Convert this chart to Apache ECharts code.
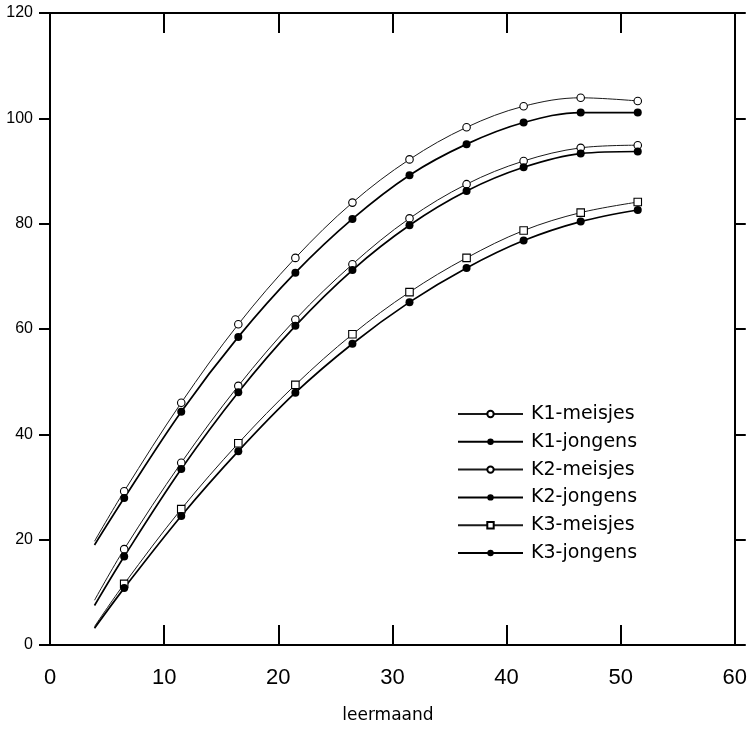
<!DOCTYPE html>
<html>
<head>
<meta charset="utf-8">
<script src="https://cdn.jsdelivr.net/npm/echarts@6/dist/echarts.min.js"></script>
<style>
  html, body { margin: 0; padding: 0; background: #fff; }
  #chart { width: 750px; height: 729px; }
</style>
</head>
<body>
<div id="chart"></div>
<script>
// Leermaand positions: the first entry is where each curve starts (no marker),
// the rest are the measured months that carry a marker.
const months = [3.9, 6.5, 11.5, 16.5, 21.5, 26.5, 31.5, 36.5, 41.5, 46.5, 51.5];

const k1Meisjes = [19.7, 29.2, 46.0, 60.9, 73.5, 84.0, 92.2, 98.3, 102.3, 103.9, 103.3];
const k1Jongens = [19.0, 27.9, 44.3, 58.5, 70.7, 80.9, 89.2, 95.1, 99.2, 101.1, 101.1];
const k2Meisjes = [8.5, 18.2, 34.6, 49.2, 61.8, 72.3, 81.0, 87.5, 91.9, 94.4, 94.9];
const k2Jongens = [7.5, 16.8, 33.4, 48.0, 60.6, 71.2, 79.7, 86.2, 90.7, 93.3, 93.7];
const k3Meisjes = [3.5, 11.6, 25.8, 38.3, 49.4, 59.0, 67.0, 73.5, 78.7, 82.1, 84.1];
const k3Jongens = [3.2, 10.8, 24.5, 36.8, 47.9, 57.2, 65.1, 71.6, 76.8, 80.4, 82.6];

const seriesNames = ['K1-meisjes', 'K1-jongens', 'K2-meisjes', 'K2-jongens', 'K3-meisjes', 'K3-jongens'];

const xTicks = [0, 10, 20, 30, 40, 50, 60];
const yTicks = [0, 20, 40, 60, 80, 100, 120];

const TEXT_FONT = '"DejaVu Sans", "Liberation Sans", sans-serif';
const NUM_FONT = '"Liberation Sans", "DejaVu Sans", sans-serif';

function toPoints(values) {
  return values.map((v, i) => {
    const item = { value: [months[i], v] };
    if (i === 0) item.symbol = 'none';
    return item;
  });
}

function curve(name, values, kind) {
  const open = kind !== 'filled';
  return {
    name: name,
    type: 'line',
    smooth: 0.35,
    data: toPoints(values),
    symbol: kind === 'square' ? 'rect' : 'circle',
    symbolSize: kind === 'filled' ? 8 : 7.5,
    showSymbol: true,
    lineStyle: {
      color: open ? '#1a1a1a' : '#000',
      width: open ? 1 : 1.7
    },
    itemStyle: {
      color: open ? '#fff' : '#000',
      borderColor: '#000',
      borderWidth: open ? 1.1 : 0
    },
    emphasis: { disabled: true },
    z: 3
  };
}

const axisLine = { show: true, onZero: false, lineStyle: { color: '#000', width: 2 } };
const tickStyle = { color: '#000', width: 2 };

const chart = echarts.init(document.getElementById('chart'), null, { renderer: 'canvas' });

chart.setOption({
  animation: false,
  backgroundColor: '#fff',
  textStyle: { fontFamily: TEXT_FONT },
  grid: { left: 50, right: 11, top: 13, bottom: 84, containLabel: false },
  legend: {
    orient: 'vertical',
    left: 457,
    top: 404,
    padding: 0,
    itemWidth: 65,
    itemHeight: 8,
    itemGap: 7.8,
    data: seriesNames,
    textStyle: { fontFamily: TEXT_FONT, fontSize: 19, color: '#000', lineHeight: 20, padding: [0, 0, 0, 3] },
    selectedMode: false
  },
  xAxis: [
    {
      type: 'value',
      position: 'bottom',
      min: xTicks[0],
      max: xTicks[xTicks.length - 1],
      interval: 10,
      name: 'leermaand',
      nameLocation: 'middle',
      nameGap: 62,
      nameTextStyle: { fontFamily: TEXT_FONT, fontSize: 17, color: '#000', padding: [0, 9, 0, 0] },
      axisLine: axisLine,
      axisTick: { show: true, inside: true, length: 20, lineStyle: tickStyle },
      axisLabel: { show: true, margin: 22, fontSize: 22, color: '#000', fontFamily: NUM_FONT },
      splitLine: { show: false }
    },
    {
      type: 'value',
      position: 'top',
      min: xTicks[0],
      max: xTicks[xTicks.length - 1],
      interval: 10,
      axisLine: axisLine,
      axisTick: { show: true, inside: true, length: 20, lineStyle: tickStyle },
      axisLabel: { show: false },
      splitLine: { show: false }
    }
  ],
  yAxis: [
    {
      type: 'value',
      position: 'left',
      min: yTicks[0],
      max: yTicks[yTicks.length - 1],
      interval: 20,
      axisLine: axisLine,
      axisTick: { show: true, inside: false, length: 11, lineStyle: tickStyle },
      axisLabel: { show: true, margin: 17, fontSize: 16, color: '#000', fontFamily: NUM_FONT },
      splitLine: { show: false }
    },
    {
      type: 'value',
      position: 'right',
      min: yTicks[0],
      max: yTicks[yTicks.length - 1],
      interval: 20,
      axisLine: axisLine,
      axisTick: { show: true, inside: false, length: 11, lineStyle: tickStyle },
      axisLabel: { show: false },
      splitLine: { show: false }
    }
  ],
  series: [
    curve(seriesNames[0], k1Meisjes, 'open'),
    curve(seriesNames[1], k1Jongens, 'filled'),
    curve(seriesNames[2], k2Meisjes, 'open'),
    curve(seriesNames[3], k2Jongens, 'filled'),
    curve(seriesNames[4], k3Meisjes, 'square'),
    curve(seriesNames[5], k3Jongens, 'filled')
  ]
});
</script>
</body>
</html>
